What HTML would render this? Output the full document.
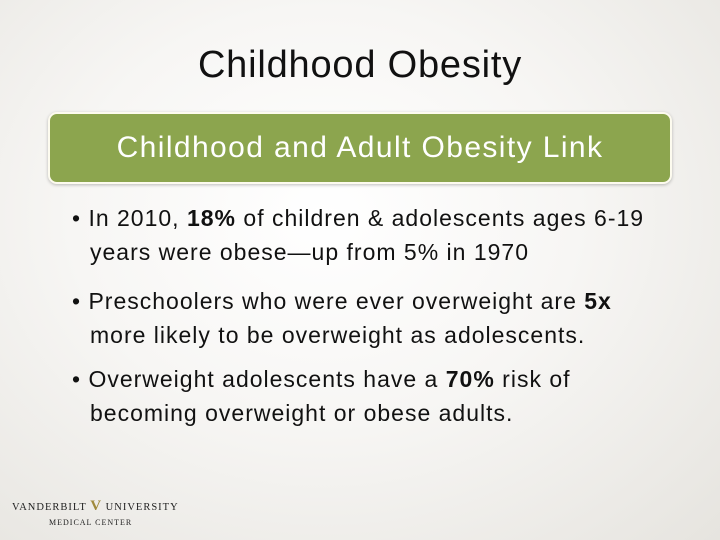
<!DOCTYPE html>
<html><head><meta charset="utf-8"><style>
body{margin:0}
#slide{position:relative;width:720px;height:540px;overflow:hidden;font-family:"Liberation Sans",sans-serif;
background:radial-gradient(ellipse at 45% 40%,#ffffff 0%,#f7f6f4 45%,#e6e4df 100%);}
#title{position:absolute;left:0;width:720px;top:44px;text-align:center;font-size:38px;letter-spacing:0.8px;color:#111;}
#box{position:absolute;left:48px;top:112px;width:620px;height:68px;background:#8ca54e;border:2px solid #fdfbef;border-radius:9px;box-shadow:0 1px 3px rgba(0,0,0,.25);
color:#fff;font-size:30px;letter-spacing:1.4px;text-align:center;line-height:68px;white-space:nowrap}
.b{position:absolute;left:72px;font-size:23px;letter-spacing:1px;color:#111;line-height:34px;width:660px;white-space:nowrap}
.b span.i{padding-left:18px}
#logo{position:absolute;left:12px;top:498px;font-family:"Liberation Serif",serif;color:#222}
</style></head><body>
<div id="slide">
<div id="title">Childhood Obesity</div>
<div id="box">Childhood and Adult Obesity Link</div>
<div class="b" style="top:201px">• In 2010, <b>18%</b> of children &amp; adolescents ages 6-19<br><span class="i">years were obese—up from 5% in 1970</span></div>
<div class="b" style="top:284px">• Preschoolers who were ever overweight are <b>5x</b><br><span class="i">more likely to be overweight as adolescents.</span></div>
<div class="b" style="top:362px">• Overweight adolescents have a <b>70%</b> risk of<br><span class="i">becoming overweight or obese adults.</span></div>
<div id="logo">
<div style="font-size:10.5px;letter-spacing:1px;white-space:nowrap">VANDERBILT <span style="color:#a08a3c;font-size:15px;font-weight:bold">V</span> UNIVERSITY</div>
<div style="font-size:8px;letter-spacing:1px;margin-left:37px;margin-top:3px">MEDICAL CENTER</div>
</div>
</div>
</body></html>
